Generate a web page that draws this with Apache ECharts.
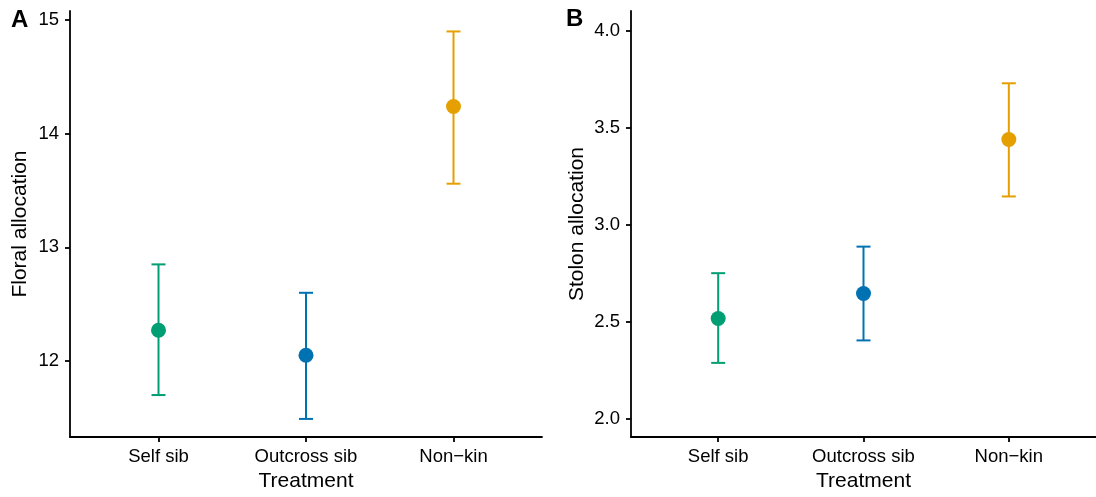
<!DOCTYPE html>
<html><head><meta charset="utf-8">
<script src="https://cdn.jsdelivr.net/npm/echarts@6/dist/echarts.min.js"></script>
<style>html,body{margin:0;padding:0;background:#fff}#c{width:1096px;height:497px}</style>
</head><body><div id="c"></div>
<script>
const categories = ['Self sib', 'Outcross sib', 'Non\u2212kin'];
const colors = ['#009E73', '#0072B2', '#E69F00'];
const floralMean = [12.27, 12.05, 14.24];
const floralLow = [11.70, 11.49, 13.56];
const floralHigh = [12.85, 12.60, 14.90];
const stolonMean = [2.516, 2.645, 3.44];
const stolonLow = [2.287, 2.403, 3.146];
const stolonHigh = [2.75, 2.887, 3.73];
const floralTicks = [12, 13, 14, 15];
const stolonTicks = [2.0, 2.5, 3.0, 3.5, 4.0];
const panelLabels = ['A', 'B'];
const xTitle = 'Treatment';
const yTitles = ['Floral allocation', 'Stolon allocation'];

const FONT = '"Liberation Sans", Arial, Helvetica, sans-serif';
const chart = echarts.init(document.getElementById('c'), null, {renderer: 'canvas'});
const xs = categories.map((_, i) => i + 1);

function xAxisCfg(gi) {
  return {
    gridIndex: gi, type: 'value', min: 0.4, max: 3.6,
    name: xTitle, nameLocation: 'middle', nameGap: 31,
    nameTextStyle: {fontFamily: FONT, fontSize: 21, color: '#000'},
    axisLine: {show: true, lineStyle: {color: '#000', width: 1.8}},
    axisTick: {show: true, length: 5, lineStyle: {color: '#000', width: 1.8}, customValues: xs},
    axisLabel: {customValues: xs, formatter: v => categories[Math.round(v) - 1] || '',
      fontFamily: FONT, fontSize: 18.5, color: '#000', margin: 10},
    splitLine: {show: false}
  };
}
function yAxisCfg(gi, min, max, ticks, name, gap, dec) {
  return {
    gridIndex: gi, type: 'value', min: min, max: max,
    name: name, nameLocation: 'middle', nameGap: gap,
    nameTextStyle: {fontFamily: FONT, fontSize: 21, color: '#000'},
    axisLine: {show: true, lineStyle: {color: '#000', width: 1.8}},
    axisTick: {show: true, length: 5, lineStyle: {color: '#000', width: 1.8}, customValues: ticks},
    axisLabel: {customValues: ticks, formatter: v => v.toFixed(dec),
      fontFamily: FONT, fontSize: 18.5, color: '#000', margin: 11},
    splitLine: {show: false}
  };
}
function errSeries(gi, low, high) {
  return {
    type: 'custom', xAxisIndex: gi, yAxisIndex: gi,
    data: xs.map((x, i) => [x, low[i], high[i]]),
    renderItem: function (params, api) {
      const x = api.value(0);
      const lo = api.coord([x, api.value(1)]);
      const hi = api.coord([x, api.value(2)]);
      const hw = 7;
      const st = {stroke: colors[params.dataIndex], lineWidth: 2};
      return {type: 'group', children: [
        {type: 'line', shape: {x1: lo[0], y1: lo[1], x2: hi[0], y2: hi[1]}, style: st},
        {type: 'line', shape: {x1: lo[0] - hw, y1: lo[1], x2: lo[0] + hw, y2: lo[1]}, style: st},
        {type: 'line', shape: {x1: hi[0] - hw, y1: hi[1], x2: hi[0] + hw, y2: hi[1]}, style: st}
      ]};
    },
    z: 2
  };
}
function ptSeries(gi, mean) {
  return {
    type: 'scatter', xAxisIndex: gi, yAxisIndex: gi, symbolSize: 15,
    data: xs.map((x, i) => ({value: [x, mean[i]], itemStyle: {color: colors[i], opacity: 1}})),
    z: 3
  };
}

chart.setOption({
  animation: false,
  backgroundColor: '#fff',
  grid: [
    {left: 70, top: 11, width: 472, height: 427},
    {left: 631, top: 11, width: 468, height: 427}
  ],
  xAxis: [xAxisCfg(0), xAxisCfg(1)],
  yAxis: [
    yAxisCfg(0, 11.33, 15.08, floralTicks, yTitles[0], 39, 0),
    yAxisCfg(1, 1.904, 4.103, stolonTicks, yTitles[1], 43, 1)
  ],
  series: [
    errSeries(0, floralLow, floralHigh), ptSeries(0, floralMean),
    errSeries(1, stolonLow, stolonHigh), ptSeries(1, stolonMean)
  ],
  graphic: [
    {type: 'text', left: 11, top: 8, style: {text: panelLabels[0], font: 'bold 24px ' + FONT, fill: '#000'}},
    {type: 'text', left: 566, top: 7, style: {text: panelLabels[1], font: 'bold 24px ' + FONT, fill: '#000'}}
  ]
});
</script>
</body></html>
